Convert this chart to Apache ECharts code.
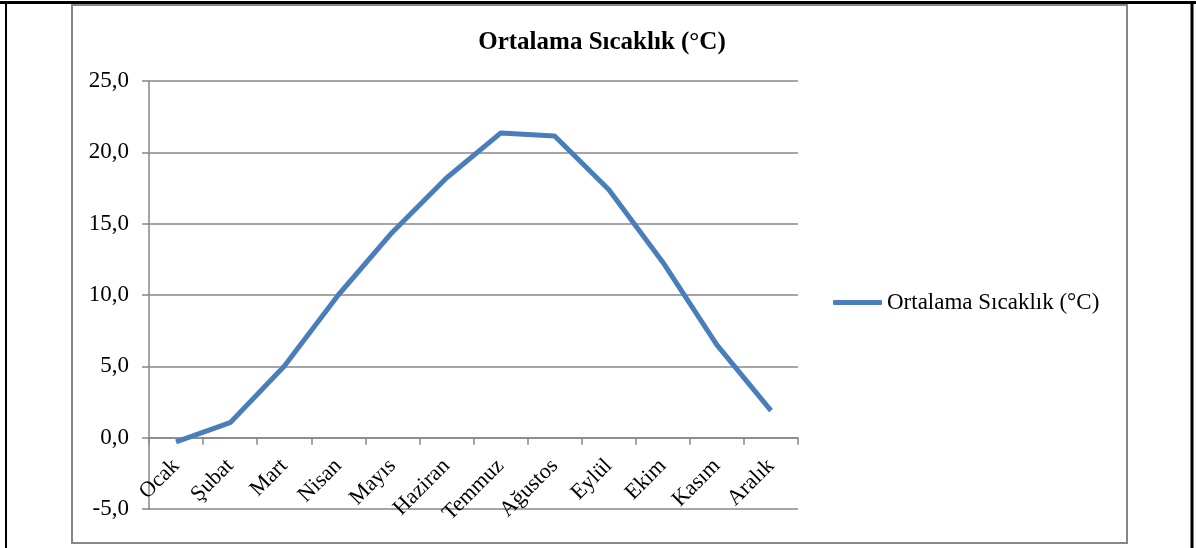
<!DOCTYPE html>
<html>
<head>
<meta charset="utf-8">
<script src="https://cdn.jsdelivr.net/npm/echarts@6/dist/echarts.min.js"></script>
<style>
  html, body { margin: 0; padding: 0; background: #fff; }
  #chart { width: 1196px; height: 548px; }
</style>
</head>
<body>
<div id="chart"></div>
<script>
const months = ['Ocak', 'Şubat', 'Mart', 'Nisan', 'Mayıs', 'Haziran', 'Temmuz', 'Ağustos', 'Eylül', 'Ekim', 'Kasım', 'Aralık']
const temps = [-0.3, 1.05, 5.0, 10.0, 14.4, 18.2, 21.35, 21.15, 17.4, 12.3, 6.5, 1.9]
const seriesName = 'Ortalama Sıcaklık (°C)'

const serif = '"Liberation Serif", "Times New Roman", serif'
const gray = '#878787'

// plot is 428px tall for 30 units; the zero line sits 5 units above the bottom
const zeroOffset = -428 / 6

const chart = echarts.init(document.getElementById('chart'))
chart.setOption({
  animation: false,
  textStyle: { fontFamily: serif },
  title: {
    text: seriesName,
    left: 597,
    textAlign: 'center',
    top: 25,
    textStyle: { fontFamily: serif, fontSize: 25, fontWeight: 'bold', color: '#000' }
  },
  legend: {
    left: 828,
    top: 286,
    icon: 'roundRect',
    itemWidth: 49,
    itemHeight: 5,
    textStyle: { fontFamily: serif, fontSize: 23, color: '#000' },
    data: [seriesName]
  },
  grid: { left: 149, right: 398, top: 81, bottom: 39, outerBoundsMode: 'none', containLabel: false },
  xAxis: {
    type: 'category',
    data: months,
    boundaryGap: true,
    offset: zeroOffset,
    axisLine: { onZero: false, lineStyle: { color: gray, width: 1.5 } },
    axisTick: { show: true, length: 7, lineStyle: { color: gray, width: 1.5 } },
    axisLabel: { rotate: 45, margin: 25, fontSize: 22, color: '#000', fontFamily: serif, interval: 0 }
  },
  yAxis: {
    type: 'value',
    min: -5,
    max: 25,
    interval: 5,
    axisLine: { show: true, lineStyle: { color: gray, width: 1.5 } },
    axisTick: { show: true, length: 7, lineStyle: { color: gray, width: 1.5 } },
    axisLabel: {
      fontSize: 23, color: '#000', fontFamily: serif, margin: 20,
      formatter: v => v.toFixed(1).replace('.', ',')
    },
    splitLine: { lineStyle: { color: gray, width: 1.5 } }
  },
  graphic: [
    { type: 'line', shape: { x1: 0, y1: 2.5, x2: 1196, y2: 2.5 }, style: { stroke: '#000', lineWidth: 3 } },
    { type: 'line', shape: { x1: 6, y1: 1, x2: 6, y2: 548 }, style: { stroke: '#000', lineWidth: 2 } },
    { type: 'line', shape: { x1: 1192, y1: 1, x2: 1192, y2: 548 }, style: { stroke: '#000', lineWidth: 3 } },
    { type: 'rect', shape: { x: 72, y: 5, width: 1055, height: 538 }, style: { fill: 'none', stroke: gray, lineWidth: 2 } }
  ],
  series: [
    {
      name: seriesName,
      type: 'line',
      data: temps,
      symbol: 'none',
      color: '#4a7ebb',
      lineStyle: { width: 5, color: '#4a7ebb' }
    }
  ]
})
</script>
</body>
</html>
